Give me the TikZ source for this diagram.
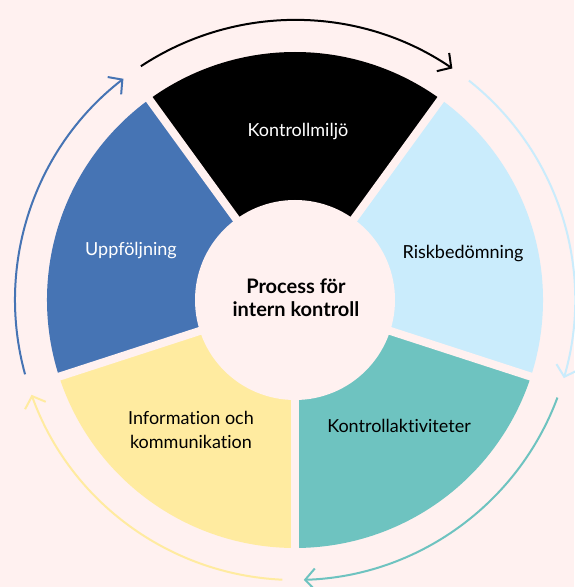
\documentclass[tikz,border=0pt]{standalone}
\usepackage{fontspec}
\setmainfont{Lato}[Ligatures=NoCommon]
\usetikzlibrary{arrows.meta,calc}
\definecolor{bg}{RGB}{255,241,240}
\definecolor{cblack}{RGB}{0,0,0}
\definecolor{clblue}{RGB}{202,236,252}
\definecolor{cteal}{RGB}{110,195,192}
\definecolor{cyellow}{RGB}{255,235,160}
\definecolor{cblue}{RGB}{70,116,180}
\tikzset{
  lbl/.style={font=\fontsize{18}{24}\selectfont, align=center, inner sep=0pt},
  arr/.style={line width=2pt, -{Straight Barb[length=10pt,width=22pt]}},
}
\begin{document}
\begin{tikzpicture}[x=1pt,y=1pt]
\useasboundingbox (0,0) rectangle (574,587);
\fill[bg] (0,0) rectangle (574,587);
\coordinate (c) at (295,287);
% sectors
\foreach \a/\b/\col in {54/126/cblack, -18/54/clblue, -90/-18/cteal, -162/-90/cyellow, 126/198/cblue}{
  \fill[\col] (c) -- ($(c)+(\a:248pt)$) arc[start angle=\a, end angle=\b, radius=248pt] -- cycle;
}
% gaps
\foreach \a in {54,126,198,270,342}{
  \draw[bg, line width=8pt] (c) -- ($(c)+(\a:262pt)$);
}
\fill[bg] (c) circle[radius=100pt];
% arrows
\coordinate (s1) at ($(c)+(123.4:280pt)$);
\coordinate (s2) at ($(c)+(51.6:280pt)$);
\coordinate (s3) at ($(c)+(-20.4:280pt)$);
\coordinate (s4) at ($(c)+(-92.6:280pt)$);
\coordinate (s5) at ($(c)+(-164.6:280pt)$);
\draw[arr, cblack] (s1) arc[start angle=123.4, end angle=55.8, radius=280pt];
\draw[arr, clblue] (s2) arc[start angle=51.6, end angle=-16.2, radius=280pt];
\draw[arr, cteal] (s3) arc[start angle=-20.4, end angle=-88.2, radius=280pt];
\draw[arr, cyellow] (s4) arc[start angle=-92.6, end angle=-160.2, radius=280pt];
\draw[arr, cblue] (s5) arc[start angle=-164.6, end angle=-232.2, radius=280pt];
% labels
\node[lbl, text=white] (n1) at (298,455) {Kontrollmiljö};
\node[lbl] (n2) at (463,333) {Riskbedömning};
\node[lbl] (n3) at (399,161) {Kontrollaktiviteter};
\node[lbl] (n4) at (191,157) {Information och\\kommunikation};
\node[lbl, text=white] (n5) at (131,336) {Uppföljning};
\node[font=\bfseries\fontsize{20}{23}\selectfont, align=center, inner sep=0pt] (t) at (296,289) {Process för\\intern kontroll};
\end{tikzpicture}
\end{document}
